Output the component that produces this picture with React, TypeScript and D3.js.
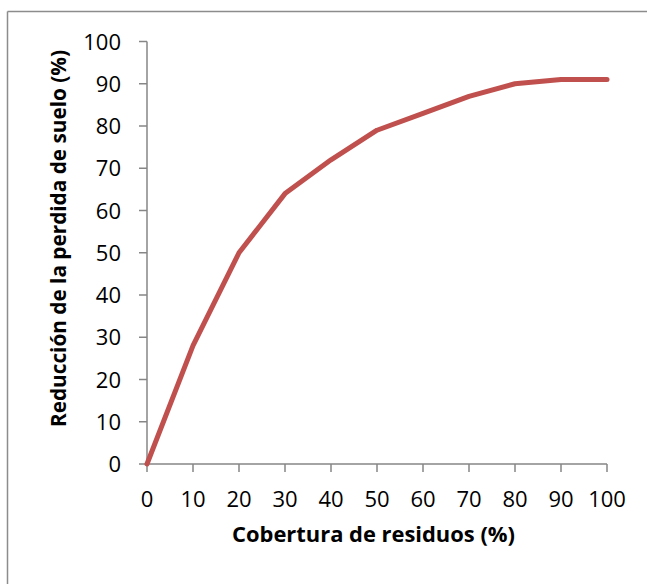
import React from "react";
import * as d3 from "d3";

const coverage = [0, 10, 20, 30, 40, 50, 60, 70, 80, 90, 100];
const reduction = [0, 28, 50, 64, 72, 79, 83, 87, 90, 91, 91];
const xTicks = [0, 10, 20, 30, 40, 50, 60, 70, 80, 90, 100];
const yTicks = [0, 10, 20, 30, 40, 50, 60, 70, 80, 90, 100];
const xTitle = "Cobertura de residuos (%)";
const yTitle = "Reducción de la perdida de suelo (%)";

export default function App() {
  const W = 647, H = 584;
  const x = d3.scaleLinear().domain([0, 100]).range([147, 607]);
  const y = d3.scaleLinear().domain([0, 100]).range([464, 41.5]);
  const line = d3.line<number>().x((_, i) => x(coverage[i])).y((d) => y(d));
  const font = "'Open Sans', 'Liberation Sans', sans-serif";
  const axisColor = "#868686";
  return (
    <svg width={W} height={H} style={{ position: "absolute", left: 0, top: 0, background: "#fff" }}>
      <rect x={0} y={0} width={W} height={H} fill="#fff" />
      <line x1={7.5} y1={11.5} x2={W + 10} y2={11.5} stroke="#8c8c8c" strokeWidth={1.5} />
      <line x1={7.5} y1={11.5} x2={7.5} y2={H + 10} stroke="#8c8c8c" strokeWidth={1.5} />
      {/* y axis */}
      <line x1={x(0)} y1={y(0)} x2={x(0)} y2={y(100)} stroke={axisColor} strokeWidth={1.5} />
      {yTicks.map((t) => (
        <g key={"y" + t}>
          <line x1={x(0) - 8} x2={x(0)} y1={y(t)} y2={y(t)} stroke={axisColor} strokeWidth={1.5} />
          <text x={121} y={y(t) + 8} textAnchor="end" fontFamily={font} fontSize={22} fill="#000">
            {t}
          </text>
        </g>
      ))}
      {/* x axis */}
      <line x1={x(0)} y1={y(0)} x2={x(100)} y2={y(0)} stroke={axisColor} strokeWidth={1.5} />
      {xTicks.map((t) => (
        <g key={"x" + t}>
          <line x1={x(t)} x2={x(t)} y1={y(0)} y2={y(0) + 8} stroke={axisColor} strokeWidth={1.5} />
          <text x={x(t)} y={507} textAnchor="middle" fontFamily={font} fontSize={22} fill="#000">
            {t}
          </text>
        </g>
      ))}
      <path d={line(reduction) || ""} fill="none" stroke="#c0504d" strokeWidth={5} strokeLinejoin="round" strokeLinecap="round" />
      <text x={373.5} y={542} textAnchor="middle" fontFamily={font} fontWeight="bold" fontSize={22} textLength={283} lengthAdjust="spacingAndGlyphs" fill="#000">
        {xTitle}
      </text>
      <text transform={`translate(66,238.5) rotate(-90)`} textAnchor="middle" fontFamily={font} fontWeight="bold" fontSize={22} textLength={377} lengthAdjust="spacingAndGlyphs" fill="#000">
        {yTitle}
      </text>
    </svg>
  );
}
